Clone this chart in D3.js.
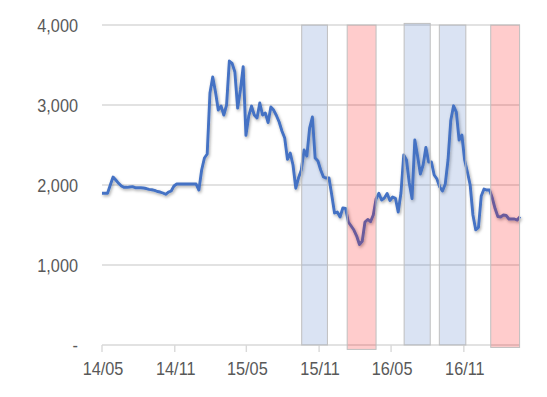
<!DOCTYPE html>
<html>
<head>
<meta charset="utf-8">
<script src="https://cdn.jsdelivr.net/npm/d3@7"></script>
<style>
  body { margin: 0; background: #fff; }
  text { font-family: "Liberation Sans", Arial, sans-serif; fill: #595959; }
</style>
</head>
<body>
<script>
//Global variables
    const width = 547;
    const height = 397;
    const plotLeft = 102;
    const plotRight = 520;
    const plotTop = 25;
    const plotBottom = 345;

//Data
    //Weekly values, first week starting 2014-05-01
    const startDate = "2014-05-01";
    const values = [
        1896, 1896, 1896, 2000, 2100, 2062, 2021, 1987, 1971, 1971,
        1975, 1979, 1966, 1966, 1966, 1962, 1956, 1946, 1941, 1933,
        1919, 1912, 1900, 1884, 1912, 1925, 1987, 2012, 2012, 2012,
        2012, 2012, 2012, 2012, 2012, 1937, 2187, 2337, 2387, 3150,
        3350, 3162, 2937, 2987, 2875, 3000, 3550, 3521, 3412, 2962,
        3187, 3480, 2620, 2860, 2987, 2875, 2837, 3025, 2875, 2900,
        2780, 2975, 2937, 2869, 2787, 2675, 2587, 2320, 2400, 2250,
        1960, 2090, 2187, 2437, 2362, 2712, 2850, 2337, 2300, 2187,
        2100, 2087, 2087, 1875, 1650, 1662, 1600, 1712, 1706, 1537,
        1487, 1437, 1362, 1256, 1296, 1537, 1569, 1541, 1625, 1825,
        1896, 1812, 1837, 1894, 1806, 1850, 1834, 1662, 1900, 2375,
        2312, 2025, 1830, 2562, 2362, 2137, 2250, 2470, 2287, 2287,
        2125, 2075, 1975, 1925, 2012, 2312, 2810, 2990, 2910, 2562,
        2625, 2312, 2162, 2000, 1625, 1440, 1470, 1862, 1950, 1937,
        1937, 1837, 1706, 1606, 1600, 1625, 1619, 1575, 1575, 1575,
        1562, 1604
    ];

    //Shaded periods
    const bandStart = ["2015-09-18", "2016-01-11", "2016-06-03", "2016-08-31", "2017-01-08"];
    const bandEnd   = ["2015-11-22", "2016-03-24", "2016-08-08", "2016-11-06", "2017-03-22"];
    const bandType  = ["blue", "red", "blue", "blue", "red"];
    const bandHigh  = [4000, 4000, 4020, 4000, 4000];
    const bandLow   = [0, -55, 0, 0, -30];

    //Axis ticks
    const yTicks = [0, 1000, 2000, 3000, 4000];
    const yLabels = ["-", "1,000", "2,000", "3,000", "4,000"];
    const xTicks = ["2014-05-01", "2014-11-01", "2015-05-01", "2015-11-01", "2016-05-01", "2016-11-01"];
    const xLabels = ["14/05", "14/11", "15/05", "15/11", "16/05", "16/11"];

    const parse = d3.timeParse("%Y-%m-%d");
    const start = parse(startDate);
    const data = values.map((v, i) => ({date: d3.timeDay.offset(start, 7 * i), value: v}));
    const bands = bandStart.map((s, i) => ({
        start: parse(s), end: parse(bandEnd[i]), type: bandType[i], high: bandHigh[i], low: bandLow[i]
    }));

//Scales
    const xScale = d3.scaleTime()
                    .domain(d3.extent(data, d => d.date))
                    .range([plotLeft, plotRight]);

    const yScale = d3.scaleLinear()
                    .domain([0, 4000])
                    .range([plotBottom, plotTop]);

//SVG element
    const svg = d3.select("body")
                .append("svg")
                .attr("width", width)
                .attr("height", height);

    //soft shadow under the line
    const filter = svg.append("defs").append("filter")
        .attr("id", "shadow")
        .attr("x", "-10%").attr("y", "-10%")
        .attr("width", "120%").attr("height", "120%");
    filter.append("feDropShadow")
        .attr("dx", 1).attr("dy", 1.5)
        .attr("stdDeviation", 1.8)
        .attr("flood-color", "#000")
        .attr("flood-opacity", 0.35);

//Gridlines
    svg.selectAll(".grid")
        .data(yTicks)
        .enter()
        .append("line")
        .attr("x1", plotLeft)
        .attr("x2", plotRight)
        .attr("y1", d => yScale(d))
        .attr("y2", d => yScale(d))
        .attr("stroke", "#d9d9d9")
        .attr("stroke-width", 1.4);

    //tick marks below the x axis
    svg.selectAll(".xtick")
        .data(xTicks)
        .enter()
        .append("line")
        .attr("x1", d => xScale(parse(d)))
        .attr("x2", d => xScale(parse(d)))
        .attr("y1", plotBottom)
        .attr("y2", plotBottom + 7)
        .attr("stroke", "#d9d9d9")
        .attr("stroke-width", 1.4);

//Line
    const line = d3.line()
                .x(d => xScale(d.date))
                .y(d => yScale(d.value));

    svg.append("path")
        .datum(data)
        .attr("d", line)
        .attr("fill", "none")
        .attr("stroke", "#4472c4")
        .attr("stroke-width", 2.9)
        .attr("stroke-linejoin", "round")
        .attr("filter", "url(#shadow)");

//Bands, see-through so the line shows under them
    svg.selectAll(".band")
        .data(bands)
        .enter()
        .append("rect")
        .attr("x", d => xScale(d.start))
        .attr("y", d => yScale(d.high))
        .attr("width", d => xScale(d.end) - xScale(d.start))
        .attr("height", d => yScale(d.low) - yScale(d.high))
        .attr("fill", d => d.type == "red" ? "rgba(255,0,0,0.2)" : "rgba(68,114,196,0.2)")
        .attr("stroke", "#bfbfbf")
        .attr("stroke-width", 1);

//Labels (squeezed a little like the original)
    svg.selectAll(".ylabel")
        .data(yTicks)
        .enter()
        .append("text")
        .attr("transform", d => "translate(78," + (yScale(d) + 6.5) + ") scale(0.88,1)")
        .attr("text-anchor", "end")
        .attr("font-size", 18.5)
        .text((d, i) => yLabels[i]);

    svg.selectAll(".xlabel")
        .data(xTicks)
        .enter()
        .append("text")
        .attr("transform", d => "translate(" + (xScale(parse(d)) + 1) + ",375) scale(0.88,1)")
        .attr("text-anchor", "middle")
        .attr("font-size", 18.5)
        .text((d, i) => xLabels[i]);
</script>
</body>
</html>
